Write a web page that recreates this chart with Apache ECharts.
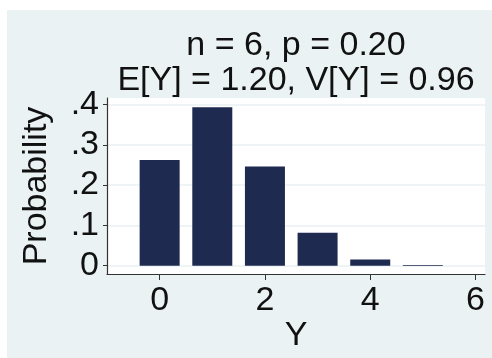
<!DOCTYPE html>
<html>
<head>
<meta charset="utf-8">
<script src="https://cdn.jsdelivr.net/npm/echarts@6/dist/echarts.min.js"></script>
<style>
html,body{margin:0;padding:0;background:#fff;}
#c{width:492px;height:358px;}
</style>
</head>
<body>
<div id="c"></div>
<script>
const titleLines = ["n = 6, p = 0.20", "E[Y] = 1.20, V[Y] = 0.96"];
const yValues = [0, 1, 2, 3, 4, 5, 6];
const probabilities = [0.262, 0.393, 0.246, 0.082, 0.0154, 0.0015, 0.00006];
const xTicks = [0, 2, 4, 6];
const yTicks = [0, 0.1, 0.2, 0.3, 0.4];
const xTitle = "Y";
const yTitle = "Probability";

const FONT = "'Liberation Sans', Arial, sans-serif";
const chart = echarts.init(document.getElementById('c'), null, {renderer: 'canvas'});
chart.setOption({
  animation: false,
  backgroundColor: '#ffffff',
  graphic: [{
    type: 'rect', z: -10, silent: true,
    shape: {x: 7, y: 10, width: 492 - 7, height: 358 - 10},
    style: {fill: '#eaf2f3'}
  }],
  title: {
    text: titleLines.join('\n'),
    left: 291, top: 23, textAlign: 'center',
    textStyle: {fontFamily: FONT, fontSize: 34, fontWeight: 'normal', color: '#111', lineHeight: 35}
  },
  grid: {
    left: 107, top: 98, right: 7, bottom: 84,
    show: true, backgroundColor: '#ffffff', borderWidth: 0
  },
  xAxis: {
    type: 'value', min: -1, max: 6.18,
    name: xTitle, nameLocation: 'middle', nameGap: 43,
    nameTextStyle: {fontFamily: FONT, fontSize: 34, color: '#111'},
    axisLine: {show: true, onZero: false, lineStyle: {color: '#333', width: 1.2}},
    axisTick: {show: true, customValues: xTicks, length: 6, lineStyle: {color: '#333'}},
    axisLabel: {customValues: xTicks, margin: 10, fontFamily: FONT, fontSize: 34, color: '#111'},
    splitLine: {show: false}
  },
  yAxis: {
    type: 'value', min: -0.0206, max: 0.416,
    name: yTitle, nameLocation: 'middle', nameGap: 53, nameRotate: 90,
    nameTextStyle: {fontFamily: FONT, fontSize: 34, color: '#111'},
    axisLine: {show: true, onZero: false, lineStyle: {color: '#333', width: 1.2}},
    axisTick: {show: true, customValues: yTicks, length: 4, lineStyle: {color: '#333'}},
    axisLabel: {
      customValues: yTicks, margin: 8, fontFamily: FONT, fontSize: 34, color: '#111',
      formatter: v => v === 0 ? '0' : ('.' + Math.round(v * 10))
    },
    splitLine: {show: true, lineStyle: {color: '#eaf2f3', width: 1.5}}
  },
  series: [{
    type: 'bar',
    barWidth: 40,
    itemStyle: {color: '#1f2a50'},
    data: yValues.map((x, i) => [x, probabilities[i]])
  }]
});
</script>
</body>
</html>
